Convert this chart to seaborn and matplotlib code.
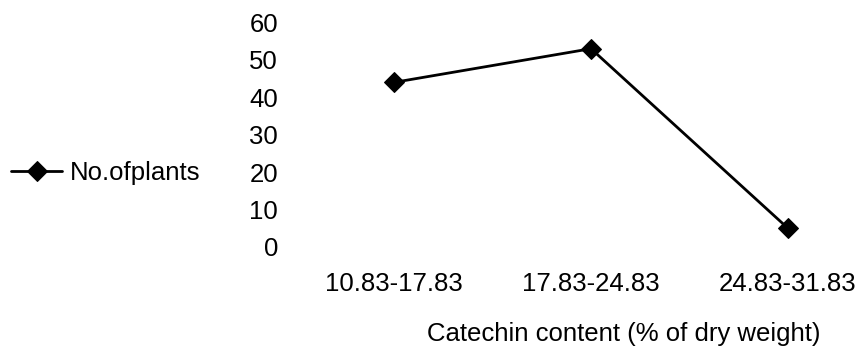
import matplotlib
matplotlib.use("Agg")
import matplotlib.pyplot as plt
import pandas as pd
import seaborn as sns

categories = ["10.83-17.83", "17.83-24.83", "24.83-31.83"]
no_of_plants = [44, 53, 5]
y_ticks = [0, 10, 20, 30, 40, 50, 60]

FS = 18.5

sns.set_theme(style="white")
plt.rcParams["font.family"] = ["Liberation Sans", "DejaVu Sans"]
plt.rcParams["text.color"] = "black"
plt.rcParams["xtick.color"] = "black"
plt.rcParams["ytick.color"] = "black"
plt.rcParams["axes.labelcolor"] = "black"

data = pd.DataFrame({"range": categories, "plants": no_of_plants})

fig = plt.figure(figsize=(8.64, 3.48), dpi=100)
ax = fig.add_axes([290 / 864, 1 - 247 / 348, 574 / 864, 224.5 / 348])

sns.lineplot(
    data=data,
    x="range",
    y="plants",
    sort=False,
    color="black",
    linewidth=2.0,
    marker="D",
    markersize=10,
    markeredgecolor="black",
    label="No.ofplants",
    ax=ax,
)

ax.set_xlim(-0.528, 2.386)
ax.set_ylim(0, 60)
ax.set_yticks(y_ticks)
for spine in ax.spines.values():
    spine.set_visible(False)
ax.tick_params(axis="y", length=0, pad=8.6, labelsize=FS)
ax.tick_params(axis="x", length=0, pad=18, labelsize=FS)
ax.set_ylabel("")
ax.set_xlabel("Catechin content (% of dry weight)", fontsize=FS, va="center")
ax.xaxis.set_label_coords((624 - 290) / 574, -87 / 224.5)

handles, labels = ax.get_legend_handles_labels()
ax.get_legend().remove()
fig.legend(
    handles,
    labels,
    loc="center left",
    bbox_to_anchor=(11 / 864, 1 - 173 / 348),
    frameon=False,
    borderpad=0,
    borderaxespad=0,
    handlelength=2.0,
    handletextpad=0.3,
    fontsize=FS,
)

fig.savefig("out.png", dpi=100)
plt.close(fig)
